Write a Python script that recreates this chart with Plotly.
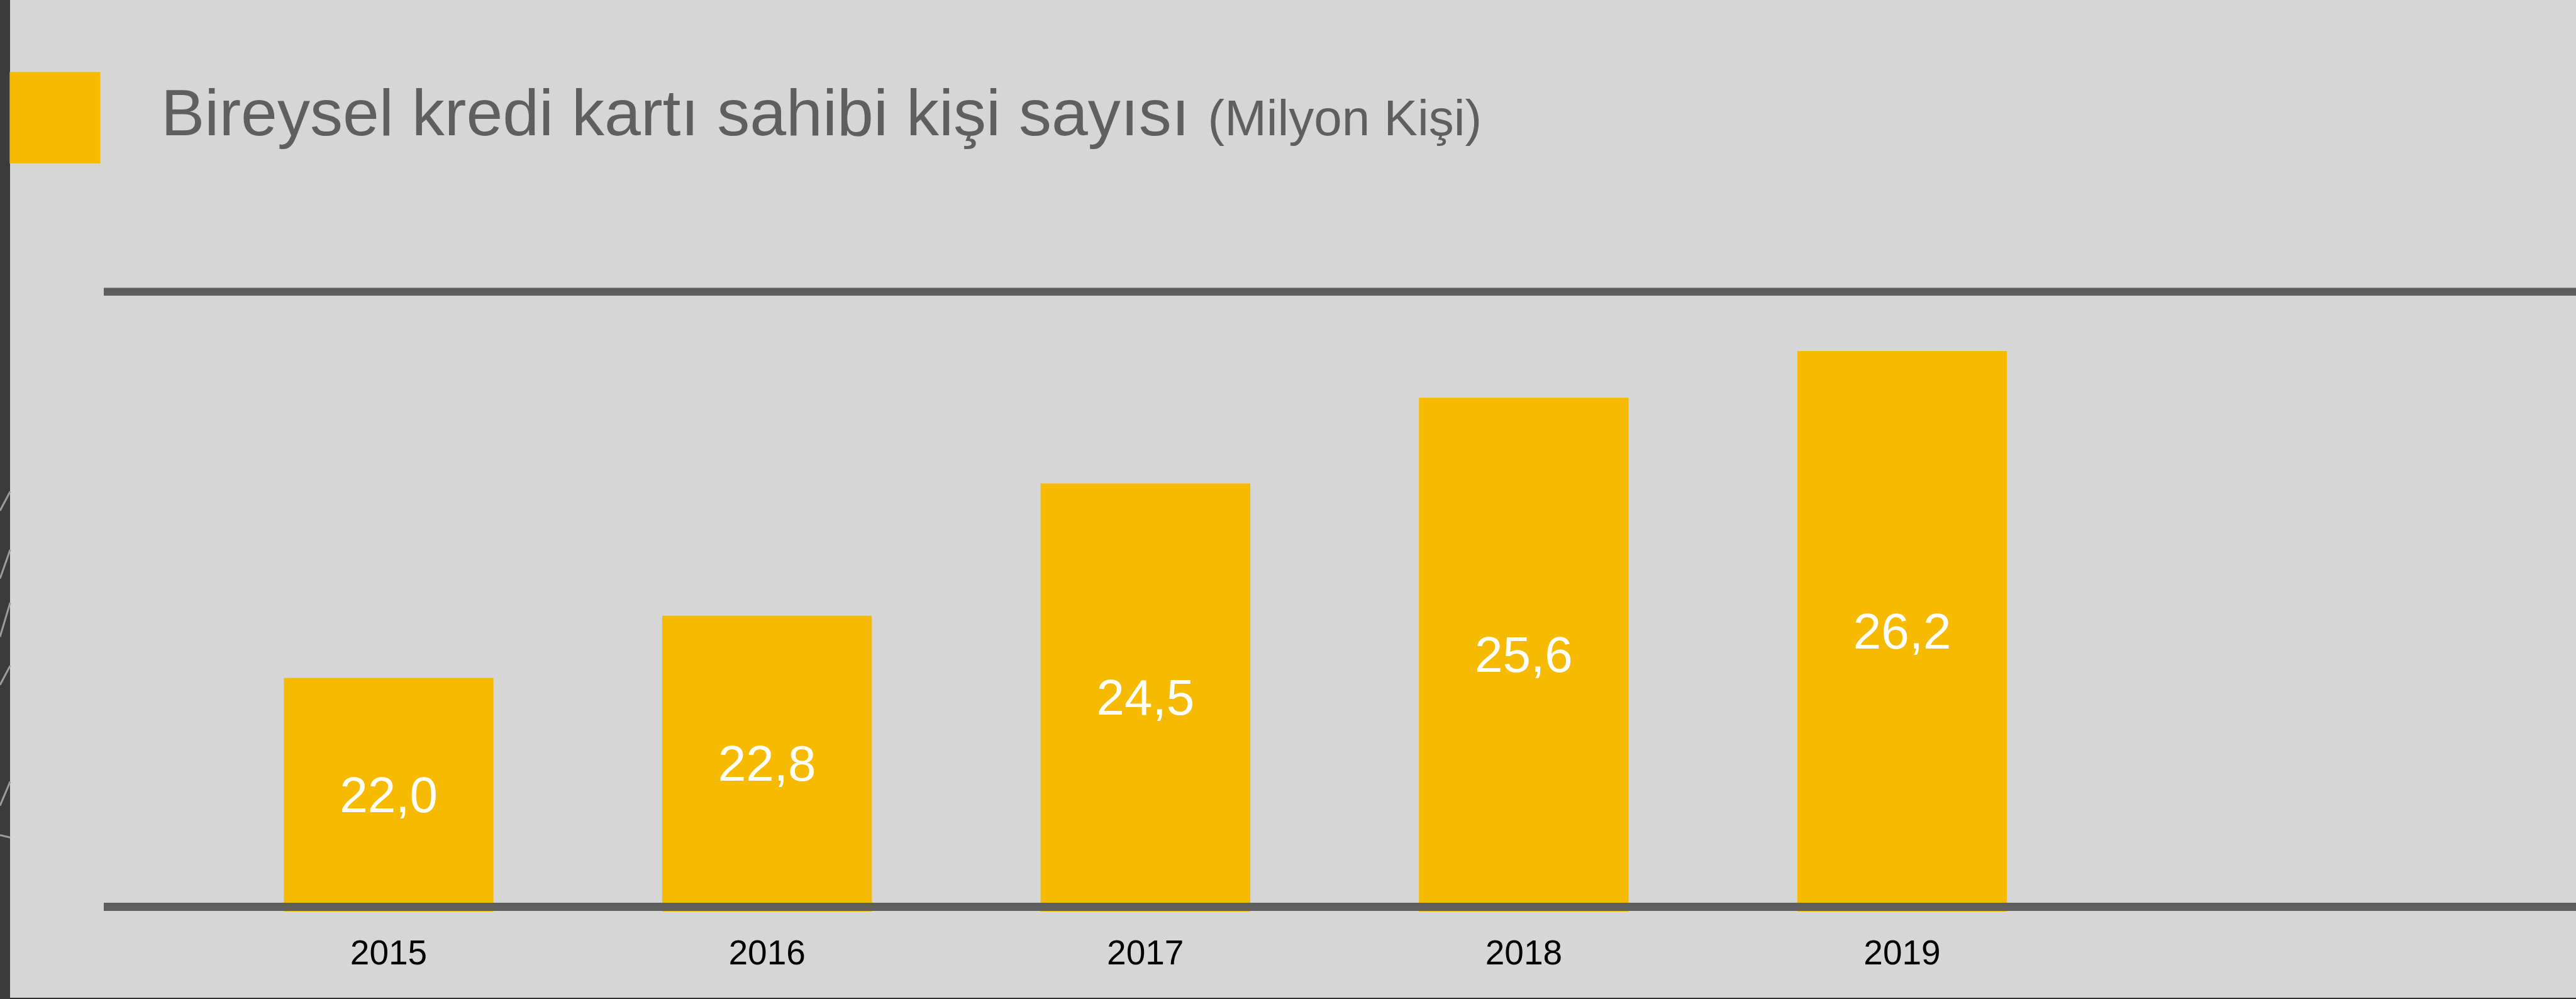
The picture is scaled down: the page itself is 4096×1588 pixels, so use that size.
import plotly.graph_objects as go

# ---- data ----
years = ["2015", "2016", "2017", "2018", "2019"]
values = [22.0, 22.8, 24.5, 25.6, 26.2]
axis_base = 19
axis_top = 27
title_main = "Bireysel kredi kartı sahibi kişi sayısı"
title_unit = "(Milyon Kişi)"

# ---- layout geometry (pixels in the 4096x1588 window) ----
W, H = 4096, 1588
L, R, T, B = 165, 0, 459, 139
PW, PH = W - L - R, H - T - B
S = 0.955  # reference -> window scale


def px(x):
    return (x - L) / PW


def py(y):
    return (H - B - y) / PH


BG = "#D6D6D6"
YEL = "#F6BA00"
LINE = "#5E5E5E"
FONT = "Liberation Sans, Arial, sans-serif"

labels = [f"{v:.1f}".replace(".", ",") for v in values]

fig = go.Figure()
fig.add_trace(go.Bar(
    x=years,
    y=[v - axis_base for v in values],
    base=axis_base,
    marker=dict(color=YEL, line=dict(width=0)),
    text=labels,
    textposition="inside",
    insidetextanchor="middle",
    textangle=0,
    textfont=dict(family=FONT, size=80, color="white"),
    hoverinfo="skip",
))

shapes = [
    # left dark strip
    dict(type="rect", xref="paper", yref="paper", x0=px(0), x1=px(16), y0=py(H), y1=py(0),
         fillcolor="#3B3B3B", line=dict(width=0), layer="above"),
    # yellow title square
    dict(type="rect", xref="paper", yref="paper", x0=px(15.3), x1=px(159.5), y0=py(259.8), y1=py(114.6),
         fillcolor=YEL, line=dict(width=0), layer="above"),
    # top rule
    dict(type="rect", xref="paper", yref="paper", x0=px(165), x1=px(W), y0=py(470), y1=py(457.5),
         fillcolor=LINE, line=dict(width=0), layer="above"),
    # bottom rule
    dict(type="rect", xref="paper", yref="paper", x0=px(165), x1=px(W), y0=py(1448), y1=py(1435),
         fillcolor=LINE, line=dict(width=0), layer="above"),
    # bottom thin edge
    dict(type="rect", xref="paper", yref="paper", x0=px(16), x1=px(W), y0=py(H), y1=py(1586),
         fillcolor="#333333", line=dict(width=0), layer="above"),
]

# light decorative strokes on the dark left strip (reference pixel coords)
strokes = [
    ((0, 850), (17, 818)),
    ((0, 963), (17, 915)),
    ((0, 1060), (17, 1003)),
    ((0, 1140), (17, 1108)),
    ((0, 1341), (17, 1301)),
    ((0, 1390), (17, 1394)),
]
for (xa, ya), (xb, yb) in strokes:
    shapes.append(dict(
        type="line", xref="paper", yref="paper",
        x0=px(xa * S), y0=py(ya * S), x1=px(xb * S), y1=py(yb * S),
        line=dict(color="#9C9C9C", width=3), layer="above",
    ))

fig.add_annotation(
    xref="paper", yref="paper", x=px(254.4), y=py(179),
    xanchor="left", yanchor="middle", showarrow=False,
    text=f"{title_main} <span style='font-size:80px'>{title_unit}</span>",
    font=dict(family=FONT, size=104, color="#5F5F5F"),
)

fig.update_layout(
    width=W, height=H,
    margin=dict(l=L, r=R, t=T, b=B, pad=0),
    paper_bgcolor=BG, plot_bgcolor=BG,
    showlegend=False,
    bargap=0.446,
    shapes=shapes,
    xaxis=dict(
        type="category", range=[-0.753, 5.781],
        showgrid=False, zeroline=False, showline=False,
        ticks="outside", ticklen=17, tickcolor="rgba(0,0,0,0)",
        tickfont=dict(family=FONT, size=55, color="black"),
        fixedrange=True,
    ),
    yaxis=dict(
        range=[axis_base, axis_top],
        showgrid=False, zeroline=False, showline=False,
        showticklabels=False, ticks="", fixedrange=True,
    ),
)

fig.write_html(
    "out.html",
    config={"displayModeBar": False},
    post_script="document.body.style.margin='0';document.body.style.overflow='hidden';",
)
